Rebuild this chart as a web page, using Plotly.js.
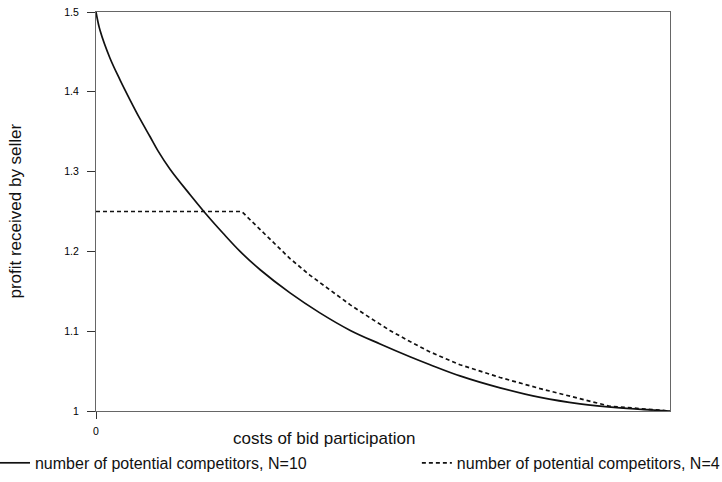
<!DOCTYPE html>
<html>
<head>
<meta charset="utf-8">
<script src="https://cdn.plot.ly/plotly-3.0.1.min.js"></script>
<style>html,body{margin:0;padding:0;background:#fff;}#chart{width:722px;height:482px;}</style>
</head>
<body>
<div id="chart"></div>
<script>
// costs of bid participation (normalised 0..1)
const costN10 = [0, 0.007, 0.0244, 0.0418, 0.0592, 0.0767, 0.094, 0.108, 0.129, 0.164, 0.195, 0.221, 0.251, 0.286, 0.338, 0.390, 0.443, 0.495, 0.547, 0.582, 0.634, 0.704, 0.774, 0.843, 0.913, 1.0];
const profitN10 = [1.5, 1.477, 1.442, 1.415, 1.390, 1.366, 1.344, 1.326, 1.303, 1.271, 1.244, 1.223, 1.200, 1.177, 1.148, 1.123, 1.101, 1.084, 1.068, 1.058, 1.044, 1.029, 1.017, 1.009, 1.004, 1.0];

const costN4 = [0, 0.2, 0.254, 0.268, 0.303, 0.338, 0.373, 0.408, 0.443, 0.477, 0.512, 0.547, 0.582, 0.634, 0.704, 0.774, 0.843, 0.895, 1.0];
const profitN4 = [1.25, 1.25, 1.25, 1.240, 1.215, 1.191, 1.170, 1.151, 1.133, 1.117, 1.101, 1.087, 1.074, 1.058, 1.042, 1.028, 1.015, 1.006, 1.0];

const yTicks = [1, 1.1, 1.2, 1.3, 1.4, 1.5];
const yTickText = ['1', '1.1', '1.2', '1.3', '1.4', '1.5'];
const xTicks = [0];
const xTickText = ['0'];

const traces = [
  {x: costN10, y: profitN10, mode: 'lines', line: {color: '#111', width: 1.7, shape: 'spline', smoothing: 1},
   name: 'number of potential competitors, N=10', legend: 'legend'},
  {x: costN4, y: profitN4, mode: 'lines', line: {color: '#111', width: 1.7, dash: '4px,3px'},
   name: 'number of potential competitors, N=4', legend: 'legend2'}
];

const legendBase = {orientation: 'h', xanchor: 'left', y: -0.0875, yanchor: 'top',
  font: {size: 16}, bgcolor: 'rgba(0,0,0,0)'};

const layout = {
  width: 722, height: 482,
  margin: {l: 96, r: 52, t: 12, b: 71, autoexpand: false},
  paper_bgcolor: '#fff', plot_bgcolor: '#fff',
  font: {family: 'Liberation Sans, Arial, sans-serif', color: '#111'},
  xaxis: {range: [0, 1], showgrid: false, zeroline: false, showline: true, mirror: true, automargin: false,
    linecolor: '#666', linewidth: 1, tickvals: xTicks, ticktext: xTickText,
    ticks: 'outside', ticklen: 7, tickcolor: '#333', tickfont: {size: 10.5, color: '#000'}, ticklabelstandoff: 3},
  yaxis: {range: [1, 1.5], showgrid: false, zeroline: false, showline: true, mirror: true, automargin: false,
    linecolor: '#666', linewidth: 1, tickvals: yTicks, ticktext: yTickText,
    ticks: 'outside', ticklen: 8, tickcolor: '#333', tickfont: {size: 10.5, color: '#000'}, ticklabelstandoff: 6},
  showlegend: true,
  legend: Object.assign({}, legendBase, {x: -0.176}),
  legend2: Object.assign({}, legendBase, {x: 0.559}),
  annotations: [
    {text: 'costs of bid participation', xref: 'paper', yref: 'paper', x: 0.397, y: -0.068,
     xanchor: 'center', yanchor: 'middle', showarrow: false, font: {size: 17}},
    {text: 'profit received by seller', xref: 'paper', yref: 'paper', x: -0.141, y: 0.5,
     xanchor: 'center', yanchor: 'middle', textangle: -90, showarrow: false, font: {size: 17}}
  ]
};

Plotly.newPlot('chart', traces, layout, {displayModeBar: false, staticPlot: true});
</script>
</body>
</html>
